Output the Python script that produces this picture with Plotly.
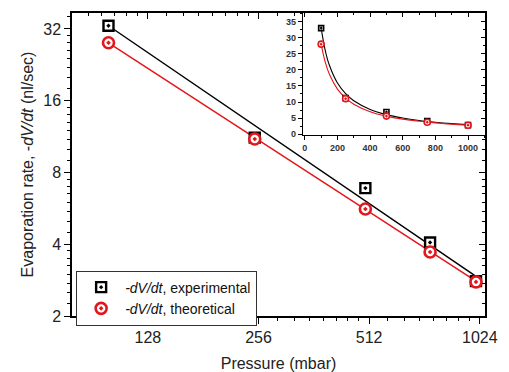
import plotly.graph_objects as go

# ---- data ----
pressure = [100, 250, 500, 750, 1000]
rate_exp = [33, 11.2, 6.88, 4.07, 2.8]
rate_theo = [28, 11.05, 5.62, 3.71, 2.78]

# fitted curves
fit_p = [100, 125, 150, 200, 250, 300, 400, 500, 600, 700, 800, 900, 1000]
fit_exp = [33, 26.1, 21.5, 15.9, 12.6, 10.4, 7.7, 6.07, 5.02, 4.26, 3.7, 3.27, 2.93]
fit_theo = [28, 22.4, 18.7, 14.0, 11.2, 9.33, 7.0, 5.6, 4.67, 4.0, 3.5, 3.11, 2.8]

x_ticks = [128, 256, 512, 1024]
y_ticks = [2, 4, 8, 16, 32]
x_minor = [88, 96, 104, 112, 120] + list(range(144, 256, 16)) + list(range(288, 512, 32)) + list(range(576, 1024, 64))
y_minor = [2.25, 2.5, 2.75, 3, 3.25, 3.5, 3.75, 4.5, 5, 5.5, 6, 6.5, 7, 7.5,
           9, 10, 11, 12, 13, 14, 15, 18, 20, 22, 24, 26, 28, 30, 36]

inset_x_ticks = [0, 200, 400, 600, 800, 1000]
inset_y_ticks = [0, 5, 10, 15, 20, 25, 30, 35]

RED = "#e3161b"
BLACK = "#000000"
FONT = "Liberation Sans, Arial, sans-serif"

fig = go.Figure()

# main plot fit lines
fig.add_trace(go.Scatter(x=[fit_p[0], fit_p[-1]], y=[fit_exp[0], fit_exp[-1]], mode="lines",
                         line=dict(color=BLACK, width=1.5), showlegend=False, hoverinfo="skip"))
fig.add_trace(go.Scatter(x=[fit_p[0], fit_p[-1]], y=[fit_theo[0], fit_theo[-1]], mode="lines",
                         line=dict(color=RED, width=1.5), showlegend=False, hoverinfo="skip"))
# main markers
fig.add_trace(go.Scatter(x=pressure, y=rate_exp, mode="markers",
                         name="<i>-dV/dt</i>, experimental",
                         marker=dict(symbol="square-dot", size=10, color="white",
                                     line=dict(color=BLACK, width=2.4))))
fig.add_trace(go.Scatter(x=pressure, y=rate_theo, mode="markers",
                         name="<i>-dV/dt</i>, theoretical",
                         marker=dict(symbol="circle-dot", size=11, color="white",
                                     line=dict(color=RED, width=2.6))))

# inset
fig.add_trace(go.Scatter(x=fit_p, y=fit_exp, mode="lines", line=dict(color=BLACK, width=1.1, shape="spline"),
                         xaxis="x2", yaxis="y2", showlegend=False, hoverinfo="skip"))
fig.add_trace(go.Scatter(x=fit_p, y=fit_theo, mode="lines", line=dict(color=RED, width=1.1, shape="spline"),
                         xaxis="x2", yaxis="y2", showlegend=False, hoverinfo="skip"))
fig.add_trace(go.Scatter(x=pressure, y=rate_exp, mode="markers", xaxis="x2", yaxis="y2", showlegend=False,
                         marker=dict(symbol="square-dot", size=5, color="white", line=dict(color=BLACK, width=1.6))))
fig.add_trace(go.Scatter(x=pressure, y=rate_theo, mode="markers", xaxis="x2", yaxis="y2", showlegend=False,
                         marker=dict(symbol="circle-dot", size=6, color="white", line=dict(color=RED, width=1.6))))

# dummy traces to activate mirror axes
fig.add_trace(go.Scatter(x=[None], y=[None], xaxis="x3", yaxis="y3", showlegend=False, hoverinfo="skip"))
fig.add_trace(go.Scatter(x=[None], y=[None], xaxis="x4", yaxis="y4", showlegend=False, hoverinfo="skip"))

XR = [1.9007, 3.0245]
YR = [0.30103, 1.572]
IXD = [0.559, 1.0]
IYD = [0.597, 1.0]
IXR = [-12, 1104]
IYR = [-0.3, 37.7]

main_ax = dict(showline=True, linecolor=BLACK, linewidth=1.5, showgrid=False, zeroline=False,
               tickcolor=BLACK, tickwidth=1.2, ticklen=6, automargin=False)
inset_ax = dict(showline=True, linecolor=BLACK, linewidth=1.2, showgrid=False, zeroline=False,
                tickcolor=BLACK, tickwidth=1, ticklen=4, automargin=False)

fig.update_layout(
    width=501, height=364,
    margin=dict(l=64, r=24, t=5, b=56),
    paper_bgcolor="white", plot_bgcolor="white",
    font=dict(family=FONT, color="#222222"),
    xaxis=dict(type="log", range=XR, domain=[0, 1], anchor="y",
               tickmode="array", tickvals=x_ticks, ticktext=[str(v) for v in x_ticks],
               ticks="outside", tickfont=dict(size=16),
               minor=dict(tickmode="array", tickvals=x_minor, ticks="outside", ticklen=3,
                          tickcolor=BLACK, tickwidth=1),
               title=dict(text="Pressure (mbar)", font=dict(size=16)),
               **main_ax),
    yaxis=dict(type="log", range=YR, domain=[0, 1], anchor="x",
               tickmode="array", tickvals=y_ticks, ticktext=[str(v) for v in y_ticks],
               ticks="outside", tickfont=dict(size=16),
               minor=dict(tickmode="array", tickvals=y_minor, ticks="outside", ticklen=3,
                          tickcolor=BLACK, tickwidth=1),
               title=dict(text="Evaporation rate, -<i>dV/dt</i> (nl/sec)", font=dict(size=16), standoff=6),
               **main_ax),
    xaxis3=dict(type="log", range=XR, overlaying="x", matches="x", side="top", anchor="y",
                tickmode="array", tickvals=x_ticks, ticks="inside", showticklabels=False,
                minor=dict(tickmode="array", tickvals=x_minor, ticks="inside", ticklen=3,
                           tickcolor=BLACK, tickwidth=1),
                **main_ax),
    yaxis3=dict(type="log", range=YR, overlaying="y", matches="y", side="right", anchor="x",
                tickmode="array", tickvals=y_ticks, ticks="inside", showticklabels=False,
                minor=dict(tickmode="array", tickvals=y_minor, ticks="inside", ticklen=3,
                           tickcolor=BLACK, tickwidth=1),
                **main_ax),
    xaxis2=dict(domain=IXD, range=IXR, anchor="y2", tickmode="array", tickvals=inset_x_ticks,
                ticks="outside", tickfont=dict(size=9, weight="bold", color="#333333"),
                minor=dict(dtick=100, tick0=0, ticks="outside", ticklen=2, tickcolor=BLACK),
                **inset_ax),
    yaxis2=dict(domain=IYD, range=IYR, anchor="x2", tickmode="array", tickvals=inset_y_ticks,
                ticks="outside", tickfont=dict(size=9, weight="bold", color="#333333"),
                minor=dict(dtick=2.5, tick0=0, ticks="outside", ticklen=2, tickcolor=BLACK),
                **inset_ax),
    xaxis4=dict(range=IXR, overlaying="x2", matches="x2", side="top", anchor="y2",
                tickmode="array", tickvals=inset_x_ticks, ticks="inside", showticklabels=False,
                minor=dict(dtick=100, tick0=0, ticks="inside", ticklen=2, tickcolor=BLACK),
                **inset_ax),
    yaxis4=dict(range=IYR, overlaying="y2", matches="y2", side="right", anchor="x2",
                tickmode="array", tickvals=inset_y_ticks, ticks="inside", showticklabels=False,
                minor=dict(dtick=2.5, tick0=0, ticks="inside", ticklen=2, tickcolor=BLACK),
                **inset_ax),
    legend=dict(x=0.01, y=0.15, xanchor="left", yanchor="top", itemwidth=38,
                bgcolor="white", bordercolor="#333333", borderwidth=1,
                font=dict(size=14, color="#111111"), tracegroupgap=0),
)

fig.write_html("out.html")
